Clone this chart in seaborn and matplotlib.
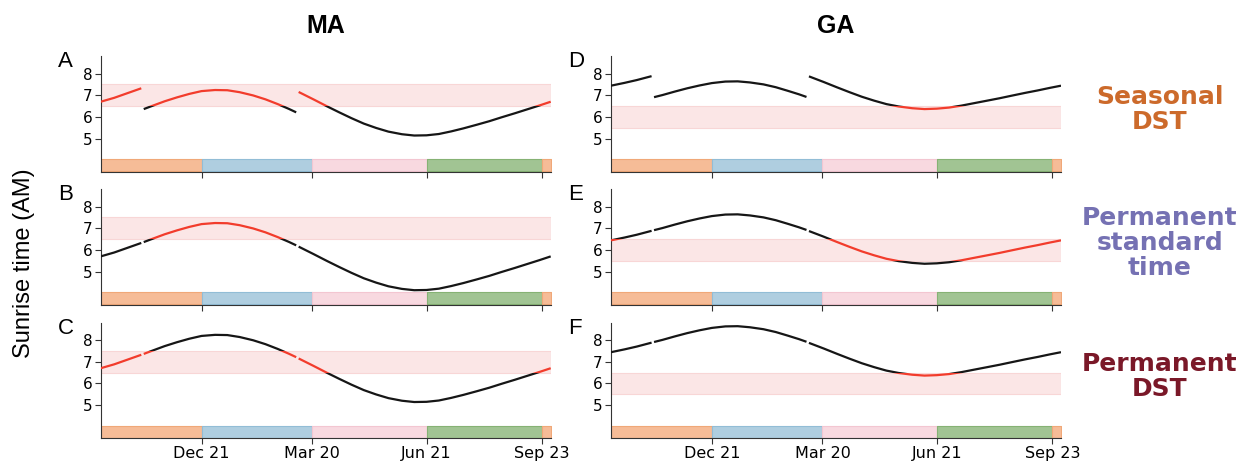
import matplotlib
matplotlib.use("Agg")
import numpy as np
import pandas as pd
import seaborn as sns
import matplotlib.pyplot as plt
from matplotlib.patches import Rectangle

# Sunrise dates sampled through the year (Sep 30 2019 -> Sep 30 2020)
dates = pd.to_datetime([
    '2019-09-30', '2019-10-11', '2019-10-21', '2019-11-02', '2019-11-04',
    '2019-11-11', '2019-11-21', '2019-12-01', '2019-12-11', '2019-12-21',
    '2020-01-01', '2020-01-11', '2020-01-21', '2020-02-01', '2020-02-11',
    '2020-02-21', '2020-03-01', '2020-03-07', '2020-03-09', '2020-03-21',
    '2020-04-01', '2020-04-11', '2020-04-21', '2020-05-01', '2020-05-11',
    '2020-05-21', '2020-06-01', '2020-06-11', '2020-06-21', '2020-07-01',
    '2020-07-11', '2020-07-21', '2020-08-01', '2020-08-11', '2020-08-21',
    '2020-09-01', '2020-09-11', '2020-09-21', '2020-09-30'])

# Sunrise in standard time (hours AM)
ma_standard = [5.70, 5.88, 6.08, 6.32, 6.36, 6.51, 6.72, 6.90, 7.06, 7.19,
               7.24, 7.23, 7.14, 6.99, 6.81, 6.59, 6.37, 6.21, 6.15, 5.81,
               5.49, 5.21, 4.94, 4.69, 4.49, 4.32, 4.20, 4.14, 4.15, 4.21,
               4.33, 4.47, 4.64, 4.80, 4.98, 5.17, 5.35, 5.53, 5.70]
ga_standard = [6.44, 6.57, 6.70, 6.88, 6.91, 7.01, 7.17, 7.32, 7.45, 7.56,
               7.63, 7.64, 7.59, 7.50, 7.37, 7.20, 7.04, 6.92, 6.87, 6.61,
               6.36, 6.14, 5.93, 5.75, 5.59, 5.48, 5.40, 5.36, 5.38, 5.43,
               5.52, 5.63, 5.75, 5.86, 5.98, 6.11, 6.22, 6.34, 6.44]
dst_shift = 1.0

# Comfortable sunrise window per state
ma_band = (6.5, 7.5)
ga_band = (5.5, 6.5)

# Pieces of the year split at the clock changes (Nov 3 and Mar 8)
segments = [slice(0, 4), slice(4, 18), slice(18, 39)]
# Which pieces are on DST for each scheme
schemes = {
    'seasonal': [True, False, True],
    'standard': [False, False, False],
    'dst': [True, True, True],
}

season_edges = pd.to_datetime(['2019-09-30', '2019-12-21', '2020-03-20',
                               '2020-06-21', '2020-09-23', '2020-09-30'])
season_colors = ['#f6bc97', '#afcee0', '#f8d9e0', '#a1c493', '#f6bc97']
season_edgecolors = ['#f0a878', '#92bdd6', '#f3c6d1', '#86b274', '#f0a878']

tick_dates = pd.to_datetime(['2019-12-21', '2020-03-20', '2020-06-21', '2020-09-23'])
tick_labels = ['Dec 21', 'Mar 20', 'Jun 21', 'Sep 23']

row_labels = ['Seasonal\nDST', 'Permanent\nstandard\ntime', 'Permanent\nDST']
row_colors = ['#cc6a2b', '#7571b3', '#7a1828']
row_schemes = ['seasonal', 'standard', 'dst']

sns.set_theme(style="ticks")
plt.rcParams['font.family'] = ['Liberation Sans', 'DejaVu Sans']
plt.rcParams['text.color'] = 'black'

W, H = 1242, 463
fig = plt.figure(figsize=(W / 100, H / 100), dpi=100)

col_left = [100.7, 611.0]
ax_w = 450.0
row_top = [56.0, 189.0, 322.5]
ax_h = 115.5

states = [('MA', ma_standard, ma_band), ('GA', ga_standard, ga_band)]
letters = [['A', 'B', 'C'], ['D', 'E', 'F']]

for c, (state, values, band_lim) in enumerate(states):
    values = np.array(values)
    for r, scheme in enumerate(row_schemes):
        ax = fig.add_axes([col_left[c] / W, 1 - (row_top[r] + ax_h) / H, ax_w / W, ax_h / H])

        band = ax.axhspan(band_lim[0], band_lim[1], facecolor='#fbe6e6',
                          edgecolor='#f8d6d6', lw=0.8, zorder=0)
        # black outside the window, red inside it
        ytr = ax.get_yaxis_transform()
        below = Rectangle((0, 0), 1, band_lim[0], transform=ytr)
        above = Rectangle((0, band_lim[1]), 1, 10 - band_lim[1], transform=ytr)

        # season strip along the bottom
        for i in range(len(season_colors)):
            ax.fill_between([season_edges[i], season_edges[i + 1]], 3.5, 4.05,
                            facecolor=season_colors[i], edgecolor=season_edgecolors[i],
                            lw=0.8, zorder=1)

        for seg, on_dst in zip(segments, schemes[scheme]):
            y = values[seg] + (dst_shift if on_dst else 0.0)
            x = dates[seg]
            for clip in (below, above):
                sns.lineplot(x=x, y=y, ax=ax, color='#161616', lw=1.6, legend=False,
                             solid_capstyle='butt', zorder=3)
                ax.lines[-1].set_clip_path(clip)
            sns.lineplot(x=x, y=y, ax=ax, color='#f23c2c', lw=1.6, legend=False,
                         solid_capstyle='butt', zorder=4)
            ax.lines[-1].set_clip_path(band)

        ax.set_xlim(season_edges[0], season_edges[-1])
        ax.set_ylim(3.48, 8.81)
        ax.set_yticks([5, 6, 7, 8])
        ax.set_yticklabels(['5', '6', '7', '8'], fontfamily='DejaVu Sans', fontsize=11)
        ax.set_xticks(tick_dates)
        if r == 2:
            ax.set_xticklabels(tick_labels, fontfamily='DejaVu Sans', fontsize=11.5)
        else:
            ax.set_xticklabels([])
        ax.set_xlabel('')
        ax.set_ylabel('')
        ax.tick_params(axis='both', length=4, width=0.8, color='#333333', pad=2,
                       labelcolor='black')
        sns.despine(ax=ax)
        for side in ['left', 'bottom']:
            ax.spines[side].set_color('#333333')
            ax.spines[side].set_linewidth(0.8)

        fig.text((col_left[c] - 42.5) / W, 1 - (row_top[r] + 11) / H, letters[c][r],
                 fontsize=16, va='baseline', ha='left')

    fig.text((col_left[c] + ax_w / 2) / W, 1 - 33 / H, state, fontsize=18,
             fontweight='bold', ha='center', va='baseline')

fig.text(24 / W, 1 - 263 / H, 'Sunrise time (AM)', rotation=90, fontsize=17,
         ha='center', va='center')

for r in range(3):
    yc = row_top[r] + ax_h / 2 - 4
    fig.text(1160 / W, 1 - yc / H, row_labels[r], fontsize=18, fontweight='bold',
             fontfamily='DejaVu Sans', color=row_colors[r], ha='center', va='center',
             linespacing=1.05)

fig.savefig('out.png', dpi=100)
